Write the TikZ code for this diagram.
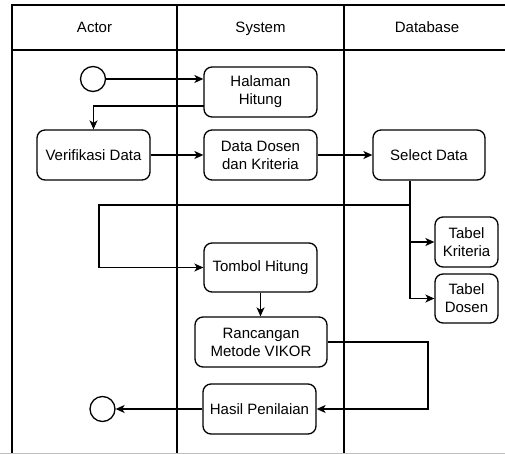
\documentclass[tikz,border=0pt]{standalone}
\usepackage{fontspec}
\setmainfont{Liberation Sans}
\usetikzlibrary{arrows.meta}
\begin{document}
\begin{tikzpicture}[x=1pt,y=-1pt,
  every node/.style={font=\fontsize{15}{18}\selectfont},
  head/.style={anchor=base,inner sep=0pt},
  act/.style={draw,line width=1.3pt,rounded corners=8pt,align=center,inner sep=0pt},
  term/.style={draw,line width=1.3pt,circle,minimum size=25pt,inner sep=0pt},
  lane/.style={line width=1.3pt},
  flow/.style={line width=1.3pt,-{Stealth[length=9pt,width=8pt,inset=2.5pt]}}]
\useasboundingbox (0,0) rectangle (505,454);
\fill[white] (0,0) rectangle (505,454);
% swimlane frame
\draw[lane] (505,5) -- (12,5) -- (12,454);
\draw[lane] (12,50) -- (505,50);
\draw[lane] (177,5) -- (177,454);
\draw[lane] (344,5) -- (344,454);
\draw[gray!50,line width=1.2pt] (0,453.4) -- (505,453.4);
\node[head] (hActor) at (94.5,33) {Actor};
\node[head] (hSystem) at (260.5,33) {System};
\node[head] (hDb) at (427,33) {Database};
% activities
\node[term] (start) at (93,79) {};
\node[act,minimum width=113pt,minimum height=50pt] (halaman) at (260.5,92) {Halaman\\Hitung};
\node[act,minimum width=113pt,minimum height=50pt] (verif) at (93.5,155) {Verifikasi Data};
\node[act,minimum width=113pt,minimum height=50pt] (dosen) at (260.5,155) {Data Dosen\\dan Kriteria};
\node[act,minimum width=112pt,minimum height=50pt] (select) at (429,155) {Select Data};
\node[act,minimum width=63pt,minimum height=50pt] (tkrit) at (466.5,242) {Tabel\\Kriteria};
\node[act,minimum width=63pt,minimum height=49pt] (tdosen) at (466.5,298.5) {Tabel\\Dosen};
\node[act,minimum width=113pt,minimum height=49pt] (tombol) at (260.5,267.5) {Tombol Hitung};
\node[act,minimum width=132pt,minimum height=50pt] (vikor) at (261,342) {Rancangan\\Metode VIKOR};
\node[act,minimum width=113pt,minimum height=50pt] (hasil) at (259.5,409) {Hasil Penilaian};
\node[term] (finish) at (102.5,409) {};
% helper points for routed connectors
\coordinate (back) at (204,106);
\coordinate (split) at (410,205);
\coordinate (bend) at (99,205);
\coordinate (turn) at (428,342);
% flows
\draw[flow] (start.east) -- (start.east -| halaman.west);
\draw[flow] (back) -| (verif.north);
\draw[flow] (verif.east) -- (dosen.west);
\draw[flow] (dosen.east) -- (select.west);
\draw[lane] (select.south -| split) -- (split);
\draw[flow] (split) -- (bend) |- (tombol.west);
\draw[flow] (split) |- (tkrit.west);
\draw[flow] (split) |- (tdosen.west);
\draw[flow] (tombol.south) -- (tombol.south |- vikor.north);
\draw[flow] (vikor.east) -- (turn) |- (hasil.east);
\draw[flow] (hasil.west) -- (finish.east);
\end{tikzpicture}
\end{document}
